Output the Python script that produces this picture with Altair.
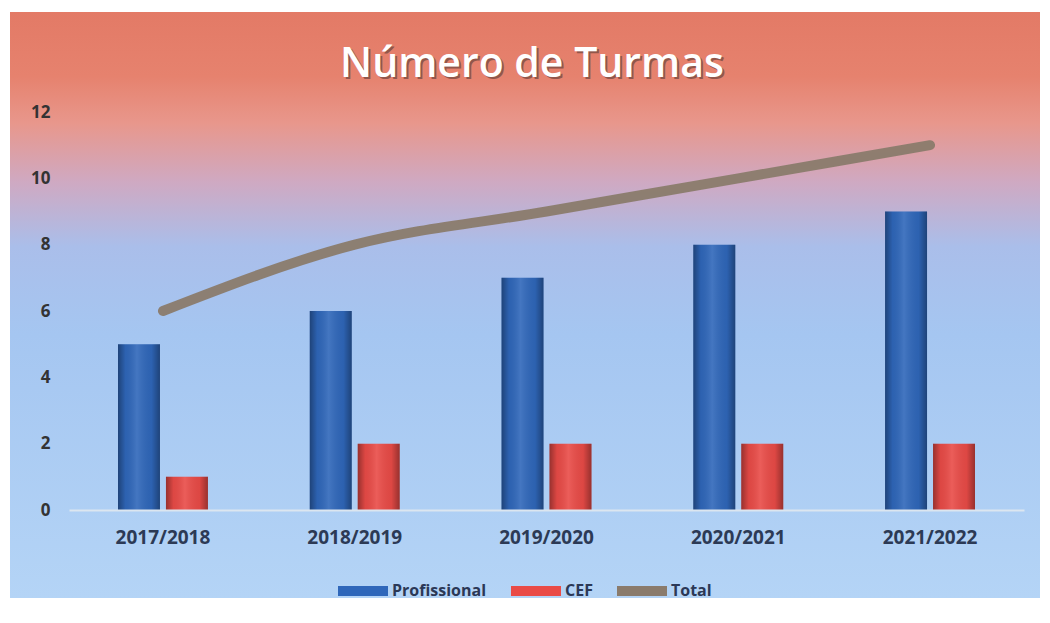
import altair as alt
import pandas as pd

categories = ["2017/2018", "2018/2019", "2019/2020", "2020/2021", "2021/2022"]
profissional = [5, 6, 7, 8, 9]
cef = [1, 2, 2, 2, 2]
total = [6, 8, 9, 10, 11]
series_names = ["Profissional", "CEF", "Total"]
series_colors = ["#2F67BA", "#E94B47", "#8A7B6C"]
y_ticks = [0, 2, 4, 6, 8, 10, 12]
title_text = ["Número de Turmas"]

W, H = 955, 398
PAD = {"left": 61, "top": 104, "right": 16, "bottom": 90}

bars_df = pd.DataFrame({
    "Ano": categories * 2,
    "Serie": ["Profissional"] * len(categories) + ["CEF"] * len(categories),
    "Valor": profissional + cef,
})
total_df = pd.DataFrame({"Ano": categories, "Serie": "Total", "Valor": total})
one_df = pd.DataFrame({"t": title_text})

x_enc = alt.X(
    "Ano:N", sort=categories,
    scale=alt.Scale(domain=categories, paddingInner=0.531, paddingOuter=0.2555),
    axis=alt.Axis(title=None, labelAngle=0, labelFont="Open Sans", labelFontSize=19,
                  labelFontWeight="bold", labelColor="#2C3A55", labelPadding=18,
                  ticks=False, domainColor="#DCE6F0", domainWidth=2, grid=False, zindex=1),
)
y_enc = alt.Y(
    "Valor:Q", scale=alt.Scale(domain=[0, 12], nice=False),
    axis=alt.Axis(title=None, values=y_ticks, labelFont="Open Sans", labelFontSize=17,
                  labelFontWeight="bold", labelColor="#333333", labelPadding=19,
                  domain=False, ticks=False, grid=False, zindex=1),
)
xoff = alt.XOffset("Serie:N", sort=["Profissional", "CEF"],
                   scale=alt.Scale(domain=["Profissional", "CEF"], paddingInner=0.125))

bg_grad = alt.Gradient(
    gradient="linear", x1=0, y1=0, x2=0, y2=1,
    stops=[
        alt.GradientStop(offset=0.0, color="#E37A66"),
        alt.GradientStop(offset=0.11, color="#E6826E"),
        alt.GradientStop(offset=0.19, color="#E8978C"),
        alt.GradientStop(offset=0.29, color="#CFA9C2"),
        alt.GradientStop(offset=0.40, color="#AABEEA"),
        alt.GradientStop(offset=0.55, color="#A5C6F1"),
        alt.GradientStop(offset=1.0, color="#B4D4F6"),
    ],
)
background = alt.Chart(one_df).mark_rect(fill=bg_grad).encode(
    x=alt.value(-59), x2=alt.value(W + 16), y=alt.value(-100), y2=alt.value(H + 88)
)

shade_grad = alt.Gradient(
    gradient="linear", x1=0, y1=0, x2=1, y2=0,
    stops=[
        alt.GradientStop(offset=0.0, color="rgba(0,0,0,0.35)"),
        alt.GradientStop(offset=0.18, color="rgba(0,0,0,0.05)"),
        alt.GradientStop(offset=0.45, color="rgba(255,255,255,0.10)"),
        alt.GradientStop(offset=0.8, color="rgba(0,0,0,0.05)"),
        alt.GradientStop(offset=1.0, color="rgba(0,0,0,0.35)"),
    ],
)

bars = alt.Chart(bars_df).mark_bar().encode(
    x=x_enc, xOffset=xoff, y=y_enc,
    color=alt.Color("Serie:N", scale=alt.Scale(domain=series_names, range=series_colors),
                    legend=alt.Legend(
                        title=None, orient="none", direction="horizontal",
                        legendX=269, legendY=454, padding=0,
                        symbolType="M-1,-0.2L1,-0.2L1,0.2L-1,0.2Z", symbolSize=2500,
                        symbolStrokeWidth=0, symbolOpacity=1,
                        labelFont="Open Sans", labelFontSize=16, labelFontWeight="bold",
                        labelColor="#2B3856", labelOffset=4, columnPadding=24,
                    )),
)
shade = alt.Chart(bars_df).mark_bar(fill=shade_grad).encode(x=x_enc, xOffset=xoff, y=y_enc)

line = alt.Chart(total_df).mark_line(
    color=series_colors[2], strokeWidth=10, strokeCap="round", interpolate="monotone", opacity=0.95
).encode(x=x_enc, y=y_enc)

title_shadow = alt.Chart(one_df).mark_text(
    font="Open Sans", fontSize=41, fontWeight=600, color="#5B3B35", opacity=0.6,
    baseline="alphabetic", align="center",
).encode(text="t:N", x=alt.value(463 + 2), y=alt.value(-33))
title = alt.Chart(one_df).mark_text(
    font="Open Sans", fontSize=41, fontWeight=600, color="#FFFFFF",
    baseline="alphabetic", align="center",
).encode(text="t:N", x=alt.value(463), y=alt.value(-35))

chart = alt.layer(background, bars, shade, line, title_shadow, title).properties(
    width=W, height=H, padding=PAD, autosize=alt.AutoSizeParams(type="none"),
    background="#FFFFFF",
).configure_view(stroke=None)

chart.save("out.html", embed_options={"renderer": "svg", "actions": False})
